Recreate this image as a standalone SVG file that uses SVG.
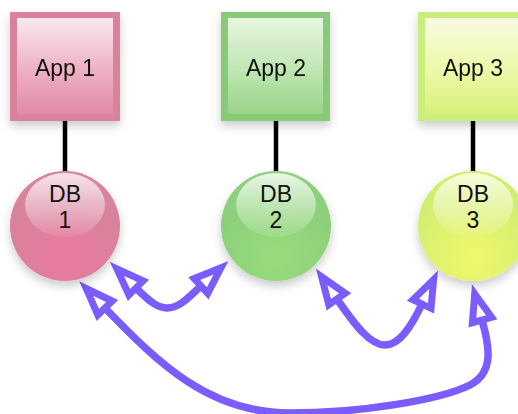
<svg xmlns="http://www.w3.org/2000/svg" width="518" height="414" viewBox="0 0 518 414">
<style>
.lbl{font-family:"Liberation Sans",Arial,sans-serif;font-size:23px;fill:#111;text-anchor:middle}
.db{font-family:"Liberation Sans",Arial,sans-serif;font-size:23px;fill:#111;text-anchor:middle}
.link{stroke:#000;stroke-width:4.5;fill:none}
.arr{stroke:#7a5cff;stroke-width:7.5;fill:none;marker-start:url(#head);marker-end:url(#head)}
</style>
<defs>
<filter id="sh" x="-30%" y="-30%" width="160%" height="170%">
<feDropShadow dx="0" dy="5" stdDeviation="5" flood-color="#000" flood-opacity="0.2"/>
</filter>
<marker id="head" markerUnits="userSpaceOnUse" orient="auto-start-reverse" refX="0" refY="0" markerWidth="60" markerHeight="60" viewBox="-10 -30 60 60" overflow="visible">
<path d="M0,-10 L27,0 L0,10 Z" fill="#fff" stroke="#7a5cff" stroke-width="7" stroke-linejoin="miter"/>
</marker>
<linearGradient id="a1" x1="0" y1="0" x2="0" y2="1"><stop offset="0" stop-color="#f9e8ee"/><stop offset="0.55" stop-color="#eeb0c3"/><stop offset="1" stop-color="#e28aa6"/></linearGradient>
<linearGradient id="a2" x1="0" y1="0" x2="0" y2="1"><stop offset="0" stop-color="#e6f5e0"/><stop offset="0.55" stop-color="#bfe6b2"/><stop offset="1" stop-color="#98d488"/></linearGradient>
<linearGradient id="a3" x1="0" y1="0" x2="0" y2="1"><stop offset="0" stop-color="#f7fbe2"/><stop offset="0.55" stop-color="#eef8a8"/><stop offset="1" stop-color="#d6f07c"/></linearGradient>
<radialGradient id="c1" cx="0.5" cy="0.78" r="0.6"><stop offset="0" stop-color="#ea7a9f"/><stop offset="1" stop-color="#d6839b"/></radialGradient>
<radialGradient id="c2" cx="0.5" cy="0.78" r="0.6"><stop offset="0" stop-color="#98dc7c"/><stop offset="1" stop-color="#8ccf7c"/></radialGradient>
<radialGradient id="c3" cx="0.5" cy="0.78" r="0.6"><stop offset="0" stop-color="#f2f86c"/><stop offset="1" stop-color="#d2ee72"/></radialGradient>
<linearGradient id="h1" x1="0" y1="0" x2="0" y2="1"><stop offset="0" stop-color="#f7e2e9"/><stop offset="1" stop-color="#f7e2e9" stop-opacity="0.1"/></linearGradient>
<linearGradient id="h2" x1="0" y1="0" x2="0" y2="1"><stop offset="0" stop-color="#e8f7e2"/><stop offset="1" stop-color="#e8f7e2" stop-opacity="0.1"/></linearGradient>
<linearGradient id="h3" x1="0" y1="0" x2="0" y2="1"><stop offset="0" stop-color="#f6fcda"/><stop offset="1" stop-color="#f6fcda" stop-opacity="0.1"/></linearGradient>
</defs>
<g id="connectors">
<line class="link" x1="65" y1="120" x2="65" y2="173"/>
<line class="link" x1="276" y1="120" x2="276" y2="173"/>
<line class="link" x1="473" y1="120" x2="473" y2="173"/>
<path class="arr" d="M136,288 C150,302 158,308 167,308 C180,308 190,296 201,286"/>
<path class="arr" d="M337,299 C355,325 370,345 385,345 C400,345 412,325 422,304"/>
<path class="arr" d="M105,308 C160,365 210,413 290,413 C360,413 440,400 470,385 C495,372 489,345 482,320"/>
</g>
<g id="app1" filter="url(#sh)">
<rect x="10" y="12" width="110" height="109" fill="#d9829c"/>
<rect x="17" y="18" width="96" height="96" fill="url(#a1)"/>
<text class="lbl" x="65" y="76">App 1</text>
</g>
<g id="app2" filter="url(#sh)">
<rect x="221" y="12" width="109" height="109" fill="#88c97a"/>
<rect x="228" y="18" width="95" height="96" fill="url(#a2)"/>
<text class="lbl" x="276" y="76">App 2</text>
</g>
<g id="app3" filter="url(#sh)">
<rect x="418" y="12" width="110" height="109" fill="#c9ee7c"/>
<rect x="425" y="18" width="96" height="96" fill="url(#a3)"/>
<text class="lbl" x="473" y="76">App 3</text>
</g>
<g id="db1">
<circle cx="65" cy="226" r="55" fill="url(#c1)" filter="url(#sh)"/>
<ellipse cx="65" cy="205" rx="40" ry="32" fill="url(#h1)"/>
<text class="db" x="65" y="202">DB</text>
<text class="db" x="65" y="228">1</text>
</g>
<g id="db2">
<circle cx="276" cy="226" r="55" fill="url(#c2)" filter="url(#sh)"/>
<ellipse cx="276" cy="205" rx="40" ry="32" fill="url(#h2)"/>
<text class="db" x="276" y="202">DB</text>
<text class="db" x="276" y="228">2</text>
</g>
<g id="db3">
<circle cx="473" cy="226" r="55" fill="url(#c3)" filter="url(#sh)"/>
<ellipse cx="473" cy="205" rx="40" ry="32" fill="url(#h3)"/>
<text class="db" x="473" y="202">DB</text>
<text class="db" x="473" y="228">3</text>
</g>
</svg>
